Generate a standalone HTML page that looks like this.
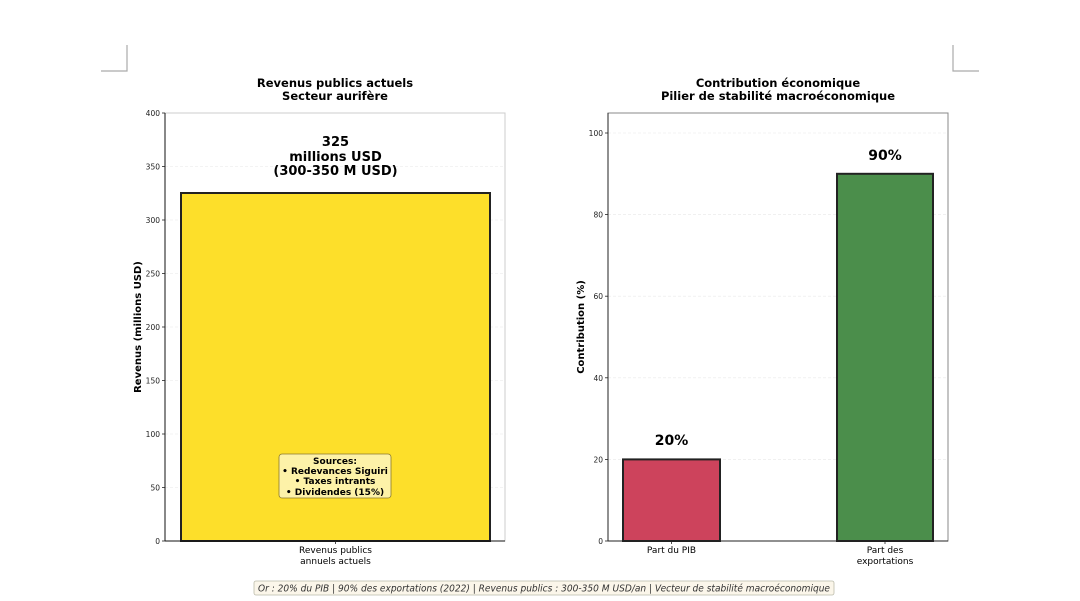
<!DOCTYPE html>
<html><head><meta charset="utf-8"><style>
body{margin:0;background:#fff}
svg{display:block;font-family:"DejaVu Sans","Liberation Sans",sans-serif}
</style></head><body>
<svg width="1080" height="601" viewBox="0 0 1080 601" xmlns="http://www.w3.org/2000/svg">
<rect width="1080" height="601" fill="#fff"/>
<path d="M127 45V71H101" fill="none" stroke="#aaa" stroke-width="1.2"/>
<path d="M953 45V71H979" fill="none" stroke="#aaa" stroke-width="1.2"/>

<text x="335" y="87" text-anchor="middle" font-size="11.5" font-weight="bold">Revenus publics actuels</text>
<text x="335" y="100" text-anchor="middle" font-size="11.5" font-weight="bold">Secteur aurifère</text>
<g stroke="#e8e8e8" stroke-width="0.6" stroke-dasharray="3,2">
<line x1="165" x2="505" y1="166.5" y2="166.5"/><line x1="165" x2="505" y1="220" y2="220"/><line x1="165" x2="505" y1="273.5" y2="273.5"/><line x1="165" x2="505" y1="327" y2="327"/><line x1="165" x2="505" y1="380.5" y2="380.5"/><line x1="165" x2="505" y1="434" y2="434"/><line x1="165" x2="505" y1="487.5" y2="487.5"/>
</g>
<rect x="165" y="113" width="340" height="428" fill="none" stroke="#ccc" stroke-width="1"/>
<rect x="181" y="193" width="309" height="348" fill="#fddf2a" stroke="#222" stroke-width="2"/>
<line x1="165" y1="113" x2="165" y2="541" stroke="#111" stroke-width="1"/>
<line x1="165" y1="541" x2="505" y2="541" stroke="#111" stroke-width="1"/>
<g font-size="7.5" fill="#222" text-anchor="end">
<text x="160" y="116">400</text><text x="160" y="169.5">350</text><text x="160" y="223">300</text><text x="160" y="276.5">250</text><text x="160" y="330">200</text><text x="160" y="383.5">150</text><text x="160" y="437">100</text><text x="160" y="490.5">50</text><text x="160" y="544">0</text>
</g>
<g stroke="#222" stroke-width="0.8">
<line x1="162" x2="165" y1="113" y2="113"/><line x1="162" x2="165" y1="166.5" y2="166.5"/><line x1="162" x2="165" y1="220" y2="220"/><line x1="162" x2="165" y1="273.5" y2="273.5"/><line x1="162" x2="165" y1="327" y2="327"/><line x1="162" x2="165" y1="380.5" y2="380.5"/><line x1="162" x2="165" y1="434" y2="434"/><line x1="162" x2="165" y1="487.5" y2="487.5"/><line x1="162" x2="165" y1="541" y2="541"/>
<line x1="335.5" x2="335.5" y1="541" y2="544"/>
</g>
<text transform="translate(141,327) rotate(-90)" text-anchor="middle" font-size="10" font-weight="bold">Revenus (millions USD)</text>
<text x="335.5" y="146" text-anchor="middle" font-size="13" font-weight="bold">325</text>
<text x="335.5" y="161" text-anchor="middle" font-size="13" font-weight="bold">millions USD</text>
<text x="335.5" y="175" text-anchor="middle" font-size="13" font-weight="bold">(300-350 M USD)</text>
<rect x="279" y="454" width="112" height="44" rx="3" fill="#fdf2a8" stroke="#8a7a30" stroke-width="0.8"/>
<g font-size="9" font-weight="bold" text-anchor="middle">
<text x="335" y="464">Sources:</text><text x="335" y="474">• Redevances Siguiri</text><text x="335" y="484">• Taxes intrants</text><text x="335" y="495">• Dividendes (15%)</text>
</g>
<text x="335.5" y="553" text-anchor="middle" font-size="9">Revenus publics</text>
<text x="335.5" y="564" text-anchor="middle" font-size="9">annuels actuels</text>

<text x="778" y="87" text-anchor="middle" font-size="11.5" font-weight="bold">Contribution économique</text>
<text x="778" y="100" text-anchor="middle" font-size="11.5" font-weight="bold">Pilier de stabilité macroéconomique</text>
<g stroke="#e8e8e8" stroke-width="0.6" stroke-dasharray="3,2">
<line x1="608" x2="948" y1="133" y2="133"/><line x1="608" x2="948" y1="214.6" y2="214.6"/><line x1="608" x2="948" y1="296.2" y2="296.2"/><line x1="608" x2="948" y1="377.8" y2="377.8"/><line x1="608" x2="948" y1="459.4" y2="459.4"/>
</g>
<rect x="608" y="113" width="340" height="428" fill="none" stroke="#888" stroke-width="1"/>
<rect x="623" y="459.4" width="97" height="81.6" fill="#cd435c" stroke="#222" stroke-width="2"/>
<rect x="837" y="173.8" width="96" height="367.2" fill="#4b8e4b" stroke="#222" stroke-width="2"/>
<line x1="608" y1="113" x2="608" y2="541" stroke="#222" stroke-width="1"/>
<line x1="608" y1="541" x2="948" y2="541" stroke="#222" stroke-width="1"/>
<g font-size="7.5" fill="#222" text-anchor="end">
<text x="603" y="136">100</text><text x="603" y="217.6">80</text><text x="603" y="299.2">60</text><text x="603" y="380.8">40</text><text x="603" y="462.4">20</text><text x="603" y="544">0</text>
</g>
<g stroke="#222" stroke-width="0.8">
<line x1="605" x2="608" y1="133" y2="133"/><line x1="605" x2="608" y1="214.6" y2="214.6"/><line x1="605" x2="608" y1="296.2" y2="296.2"/><line x1="605" x2="608" y1="377.8" y2="377.8"/><line x1="605" x2="608" y1="459.4" y2="459.4"/><line x1="605" x2="608" y1="541" y2="541"/>
<line x1="671.5" x2="671.5" y1="541" y2="544"/><line x1="885" x2="885" y1="541" y2="544"/>
</g>
<text transform="translate(584,327) rotate(-90)" text-anchor="middle" font-size="10" font-weight="bold">Contribution (%)</text>
<text x="671.5" y="445" text-anchor="middle" font-size="14" font-weight="bold">20%</text>
<text x="885" y="160" text-anchor="middle" font-size="14" font-weight="bold">90%</text>
<text x="671.5" y="553" text-anchor="middle" font-size="9">Part du PIB</text>
<text x="885" y="553" text-anchor="middle" font-size="9">Part des</text>
<text x="885" y="564" text-anchor="middle" font-size="9">exportations</text>

<rect x="254" y="581" width="580" height="14" rx="2" fill="#fbf6ea" stroke="#bba" stroke-width="0.8"/>
<text x="544" y="591.5" text-anchor="middle" font-size="9.3" font-style="italic" fill="#333" textLength="572" lengthAdjust="spacingAndGlyphs">Or : 20% du PIB | 90% des exportations (2022) | Revenus publics : 300-350 M USD/an | Vecteur de stabilité macroéconomique</text>
</svg>
</body></html>
